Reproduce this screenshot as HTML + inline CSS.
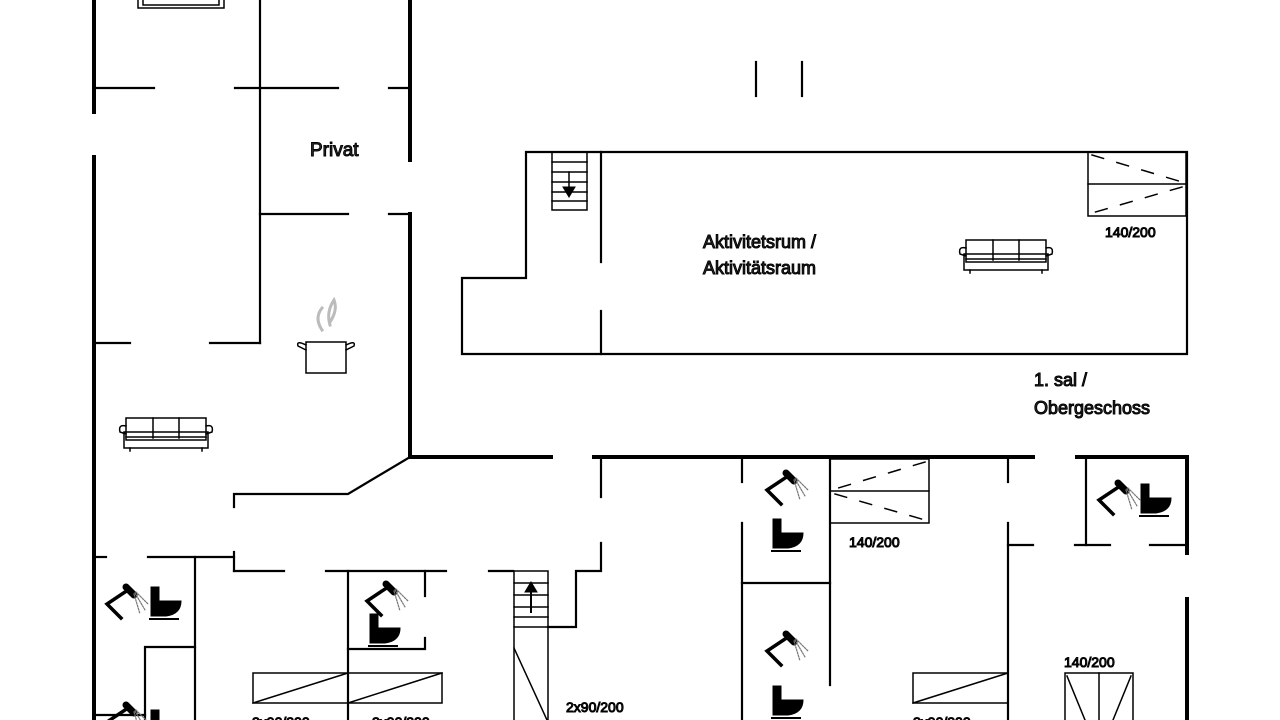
<!DOCTYPE html>
<html><head><meta charset="utf-8"><style>
html,body{margin:0;padding:0;background:#fff;width:1280px;height:720px;overflow:hidden}
svg{display:block}
text{font-family:"Liberation Sans",sans-serif;fill:#333;font-weight:normal}
</style></head><body>
<svg width="1280" height="720" viewBox="0 0 1280 720" xmlns="http://www.w3.org/2000/svg">
<defs>
<g id="sh">
<line x1="22" y1="1" x2="30" y2="9" stroke="#000" stroke-width="7" stroke-linecap="round"/>
<polyline points="24,4 3,18 17,32" fill="none" stroke="#000" stroke-width="3.5"/>
<g stroke="#777" stroke-width="1.2" stroke-dasharray="1.5 1.5">
<line x1="30" y1="8" x2="36" y2="28"/><line x1="31" y1="7" x2="41" y2="24"/><line x1="32" y1="6" x2="44" y2="18"/>
</g>
</g>
<g id="wc">
<rect x="0" y="0" width="8" height="22" fill="#000"/>
<path d="M0,14 L30,14 Q30,27 15,29 L0,29 Z" fill="#000"/>
<line x1="-1" y1="32" x2="27" y2="32" stroke="#000" stroke-width="2"/>
</g>
<g id="sofa" fill="none" stroke="#000" stroke-width="1.5">
<rect x="8" y="0" width="80" height="22"/>
<line x1="35" y1="0" x2="35" y2="20"/><line x1="61" y1="0" x2="61" y2="20"/>
<line x1="8" y1="19" x2="88" y2="19"/>
<path d="M8,8 Q0,6 2,14 L8,16 M88,8 Q96,6 94,14 L88,16"/>
<rect x="6" y="14" width="84" height="16"/>
<line x1="12" y1="30" x2="12" y2="33"/><line x1="84" y1="30" x2="84" y2="33"/>
</g>
</defs>
<g stroke="#000" fill="none" stroke-linecap="square">
<g stroke-width="4">
<line x1="94" y1="0" x2="94" y2="112"/>
<line x1="94" y1="157" x2="94" y2="720"/>
<line x1="410" y1="0" x2="410" y2="160"/>
<line x1="410" y1="214" x2="410" y2="457"/>
<line x1="410" y1="457" x2="551" y2="457"/>
<line x1="594" y1="457" x2="1033" y2="457"/>
<line x1="1077" y1="457" x2="1187" y2="457"/>
<line x1="1187" y1="457" x2="1187" y2="553"/>
<line x1="1187" y1="599" x2="1187" y2="720"/>
</g>
<g stroke-width="2.2">
<line x1="94" y1="88" x2="154" y2="88"/>
<line x1="235" y1="88" x2="338" y2="88"/>
<line x1="389" y1="88" x2="410" y2="88"/>
<line x1="260" y1="0" x2="260" y2="343"/>
<line x1="260" y1="214" x2="348" y2="214"/>
<line x1="389" y1="214" x2="410" y2="214"/>
<line x1="94" y1="343" x2="130" y2="343"/>
<line x1="210" y1="343" x2="260" y2="343"/>
<polyline points="410,457 348,494 234,494 234,507"/>
<line x1="234" y1="552" x2="234" y2="571"/>
<line x1="94" y1="557" x2="106" y2="557"/>
<line x1="148" y1="557" x2="234" y2="557"/>
<line x1="195" y1="557" x2="195" y2="720"/>
<line x1="234" y1="571" x2="284" y2="571"/>
<line x1="326" y1="571" x2="446" y2="571"/>
<line x1="489" y1="571" x2="513" y2="571"/>
<polyline points="548,627 576,627 576,571 601,571 601,543"/>
<line x1="601" y1="457" x2="601" y2="497"/>
<line x1="348" y1="571" x2="348" y2="720"/>
<polyline points="425,571 425,596"/>
<polyline points="425,638 425,649 348,649"/>
<polyline points="145,720 145,647 195,647"/>
<line x1="94" y1="715" x2="145" y2="715"/>
<line x1="742" y1="457" x2="742" y2="482"/>
<line x1="742" y1="523" x2="742" y2="720"/>
<line x1="830" y1="457" x2="830" y2="685"/>
<line x1="742" y1="583" x2="830" y2="583"/>
<line x1="1008" y1="457" x2="1008" y2="482"/>
<line x1="1008" y1="523" x2="1008" y2="720"/>
<line x1="1008" y1="545" x2="1033" y2="545"/>
<line x1="1086" y1="457" x2="1086" y2="545"/>
<line x1="1075" y1="545" x2="1110" y2="545"/>
<line x1="1150" y1="545" x2="1187" y2="545"/>
<line x1="756" y1="62" x2="756" y2="96"/>
<line x1="802" y1="62" x2="802" y2="96"/>
<polyline points="526,278 526,152 1187,152 1187,354 462,354 462,278 526,278"/>
<line x1="601" y1="152" x2="601" y2="262"/>
<line x1="601" y1="311" x2="601" y2="354"/>
</g>
<g stroke="#000" fill="none" stroke-width="1.5">
<rect x="253" y="673" width="95" height="30"/><line x1="253" y1="703" x2="348" y2="673"/>
<rect x="348" y="673" width="94" height="30"/><line x1="348" y1="703" x2="442" y2="673"/>
<rect x="913" y="673" width="95" height="30"/><line x1="913" y1="703" x2="1008" y2="673"/>
<rect x="1065" y="673" width="68" height="50"/><line x1="1099" y1="673" x2="1099" y2="720"/>
<line x1="1067" y1="676" x2="1085" y2="720"/><line x1="1131" y1="676" x2="1113" y2="720"/>
<rect x="830" y="459" width="99" height="64"/><line x1="830" y1="491" x2="929" y2="491"/>
<g stroke-dasharray="12 14"><line x1="925" y1="462" x2="835" y2="489"/><line x1="835" y1="494" x2="925" y2="520"/></g>
<rect x="1088" y="152" width="98" height="64"/><line x1="1088" y1="184" x2="1186" y2="184"/>
<g stroke-dasharray="12 14"><line x1="1092" y1="155" x2="1182" y2="182"/><line x1="1182" y1="187" x2="1092" y2="213"/></g>
<rect x="514" y="571" width="34" height="56"/>
<line x1="514" y1="583" x2="548" y2="583"/><line x1="514" y1="595" x2="548" y2="595"/><line x1="514" y1="607" x2="548" y2="607"/><line x1="514" y1="617" x2="548" y2="617"/>
<line x1="514" y1="627" x2="514" y2="720"/><line x1="548" y1="627" x2="548" y2="720"/>
<line x1="514" y1="648" x2="547" y2="720"/>
<line x1="531" y1="612" x2="531" y2="588" stroke-width="2"/>
<rect x="552" y="152" width="35" height="58"/>
<line x1="552" y1="162" x2="587" y2="162"/><line x1="552" y1="172" x2="587" y2="172"/><line x1="552" y1="182" x2="587" y2="182"/><line x1="552" y1="192" x2="587" y2="192"/><line x1="552" y1="201" x2="587" y2="201"/>
<line x1="569" y1="172" x2="569" y2="188"/>
</g>
<polygon points="525,592 537,592 531,582" fill="#000"/>
<polygon points="563,187 575,187 569,197" fill="#000"/>
<g stroke="#000" fill="none" stroke-width="1.5">
<rect x="306" y="342" width="40" height="31"/>
<path d="M306,345 Q296,340 298,346 L306,350 M346,345 Q356,340 354,346 L346,350"/>
</g>
<path d="M322,330 Q314,318 322,308 M330,325 Q326,312 334,300 Q338,310 330,322" stroke="#bbb" stroke-width="3" fill="none"/>
<use href="#sofa" x="118" y="418"/>
<use href="#sofa" x="958" y="240"/>
<g stroke="#000" fill="none" stroke-width="1.5"><rect x="138" y="-12" width="86" height="20"/><rect x="143" y="-12" width="76" height="17"/></g>
<use href="#sh" x="104" y="586"/><use href="#wc" x="151" y="587"/>
<use href="#sh" x="364" y="583"/><use href="#wc" x="370" y="614"/>
<use href="#sh" x="764" y="472"/><use href="#wc" x="773" y="519"/>
<use href="#sh" x="764" y="633"/><use href="#wc" x="773" y="686"/>
<use href="#sh" x="1096" y="482"/><use href="#wc" x="1141" y="484"/>
<use href="#sh" x="104" y="704"/><use href="#wc" x="151" y="710"/>
<text x="310" y="156" font-size="19">Privat</text>
<text x="703" y="248" font-size="18">Aktivitetsrum /</text>
<text x="703" y="274" font-size="18">Aktivitätsraum</text>
<text x="1105" y="237" font-size="14">140/200</text>
<text x="1034" y="386" font-size="18">1. sal /</text>
<text x="1034" y="414" font-size="18">Obergeschoss</text>
<text x="849" y="547" font-size="14">140/200</text>
<text x="1064" y="667" font-size="14">140/200</text>
<text x="566" y="712" font-size="14">2x90/200</text>
<text x="252" y="727" font-size="14">2x90/200</text>
<text x="372" y="727" font-size="14">2x90/200</text>
<text x="913" y="727" font-size="14">2x90/200</text>
</svg>
</body></html>
